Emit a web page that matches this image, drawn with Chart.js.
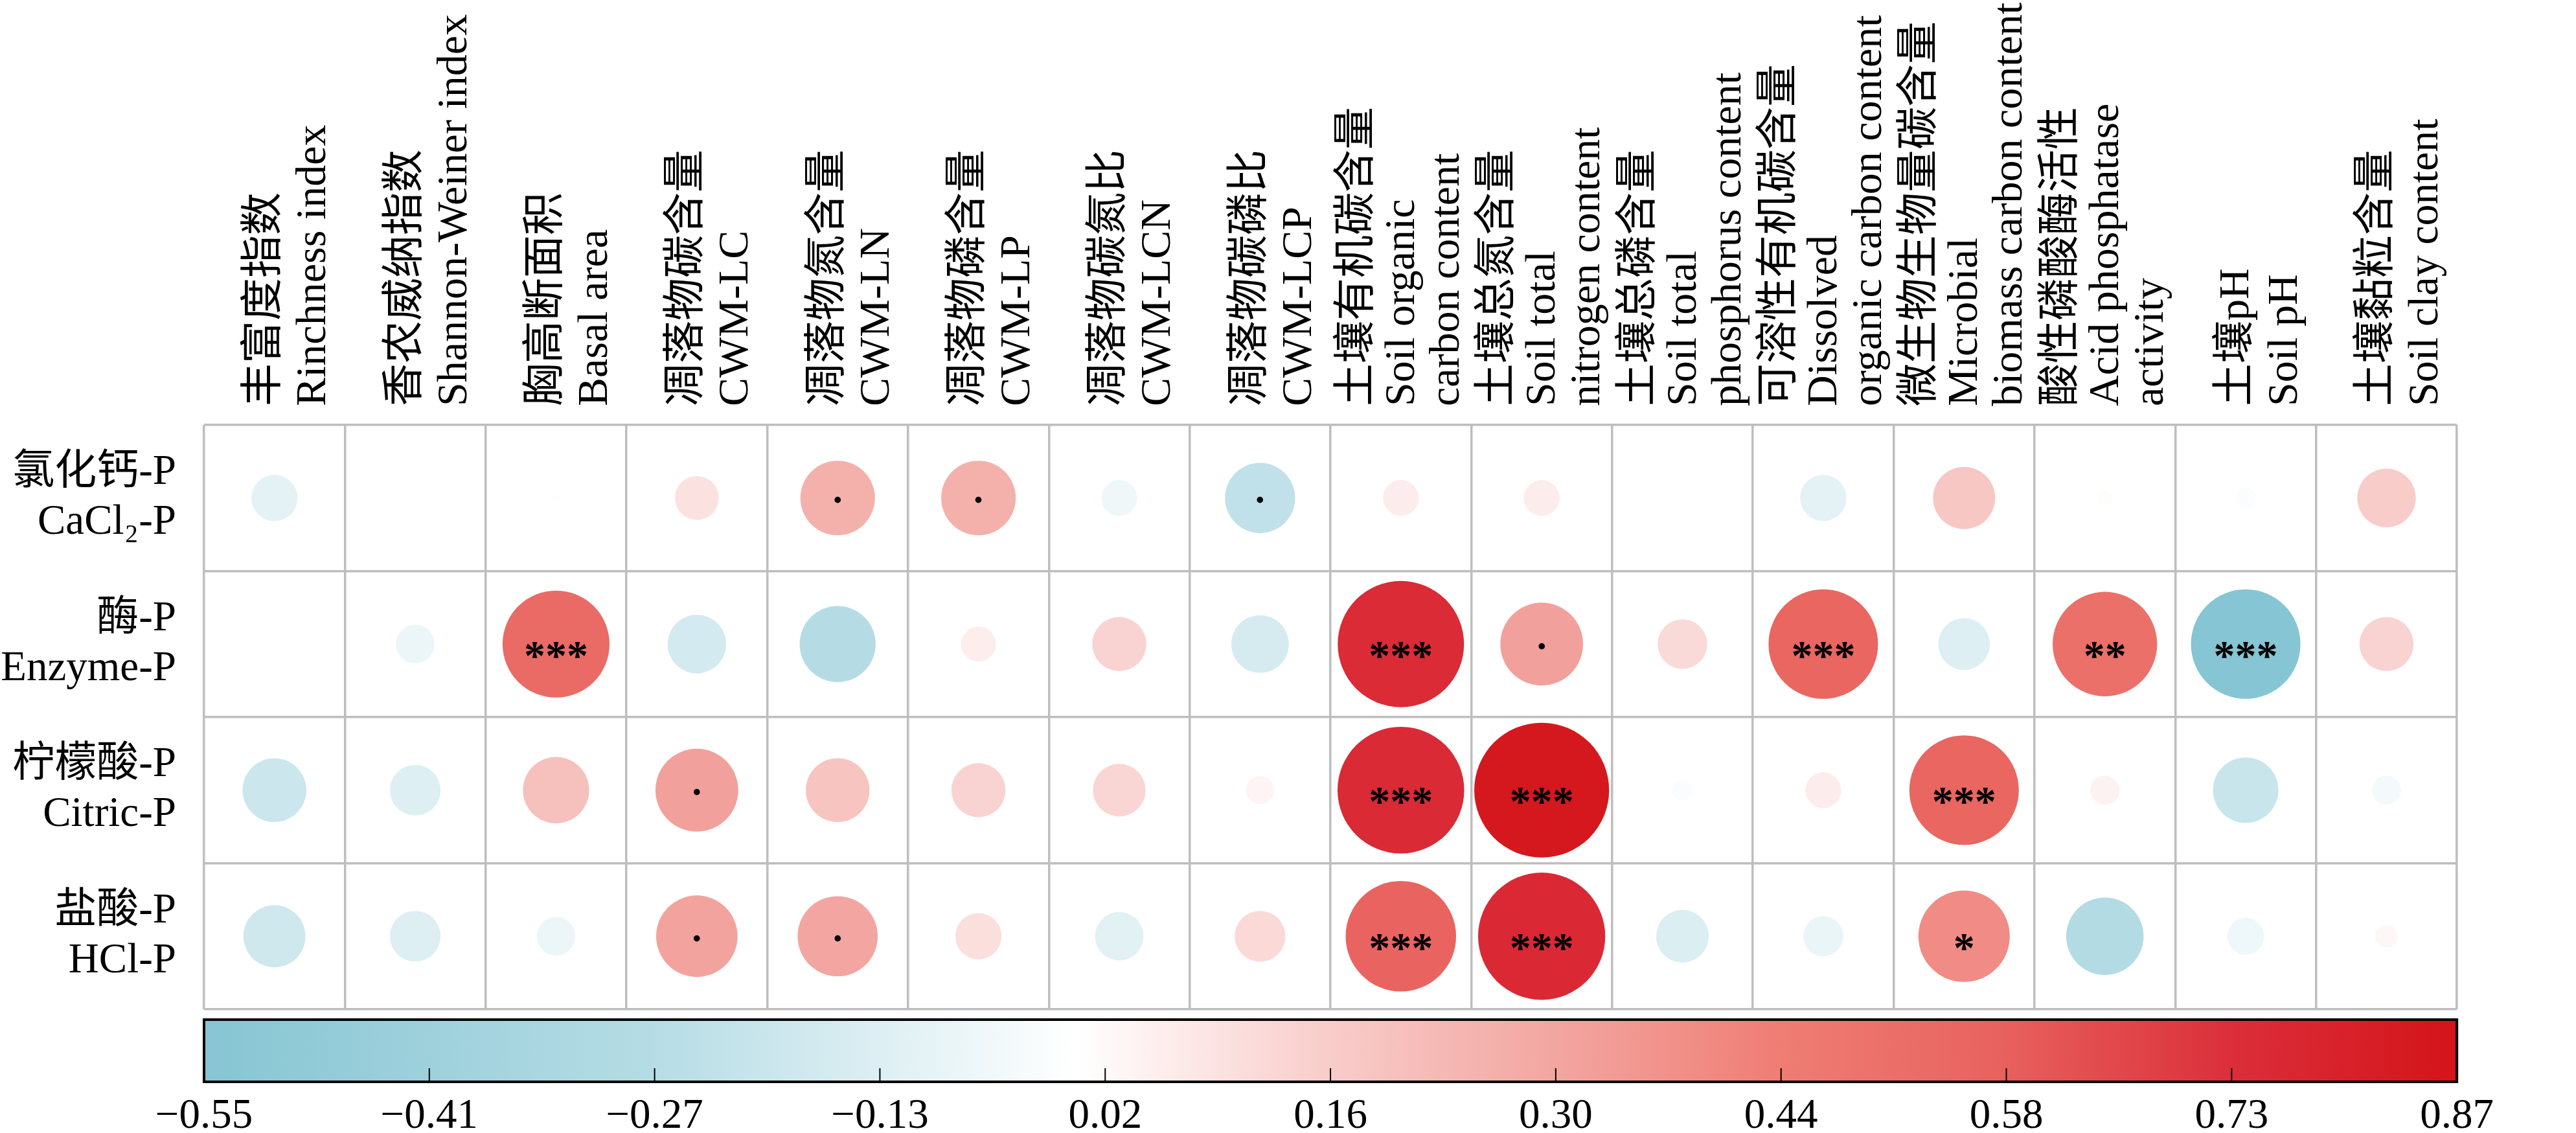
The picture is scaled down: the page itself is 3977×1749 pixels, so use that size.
<!DOCTYPE html>
<html>
<head>
<meta charset="utf-8">
<script src="https://cdn.jsdelivr.net/npm/chart.js@4.4.1/dist/chart.umd.min.js"></script>
<style>
    html, body { margin: 0; padding: 0; background: #fff; }
    canvas { display: block; }
</style>
</head>
<body>
<canvas id="corrChart" width="3977" height="1749"></canvas>
<script>
// rows: P fractions, columns: plant / litter / soil variables
const rowLabels = [
    ['氯化钙-P', 'CaCl₂-P'],
    ['酶-P', 'Enzyme-P'],
    ['柠檬酸-P', 'Citric-P'],
    ['盐酸-P', 'HCl-P']
];
const colLabels = [
    ['丰富度指数', 'Rinchness index'],
    ['香农威纳指数', 'Shannon-Weiner index'],
    ['胸高断面积', 'Basal area'],
    ['凋落物碳含量', 'CWM-LC'],
    ['凋落物氮含量', 'CWM-LN'],
    ['凋落物磷含量', 'CWM-LP'],
    ['凋落物碳氮比', 'CWM-LCN'],
    ['凋落物碳磷比', 'CWM-LCP'],
    ['土壤有机碳含量', 'Soil organic', 'carbon content'],
    ['土壤总氮含量', 'Soil total', 'nitrogen content'],
    ['土壤总磷含量', 'Soil total', 'phosphorus content'],
    ['可溶性有机碳含量', 'Dissolved', 'organic carbon content'],
    ['微生物生物量碳含量', 'Microbial', 'biomass carbon content'],
    ['酸性磷酸酶活性', 'Acid phosphatase', 'activity'],
    ['土壤pH', 'Soil pH'],
    ['土壤黏粒含量', 'Soil clay content']
];

// correlation coefficients (same column order as colLabels)
const cacl2P  = [-0.10, 0.00, 0.003, 0.09, 0.26, 0.26, -0.06, -0.23, 0.06, 0.06, -0.002, -0.10, 0.18, 0.01, -0.02, 0.16];
const enzymeP = [0.00, -0.07, 0.535, -0.16, -0.27, 0.057, 0.137, -0.155, 0.745, 0.32, 0.115, 0.56, -0.125, 0.51, -0.56, 0.137];
const citricP = [-0.19, -0.12, 0.205, 0.32, 0.19, 0.137, 0.13, 0.036, 0.75, 0.85, -0.02, 0.06, 0.56, 0.04, -0.20, -0.04];
const hclP    = [-0.18, -0.12, -0.07, 0.31, 0.30, 0.10, -0.11, 0.12, 0.57, 0.755, -0.13, -0.075, 0.39, -0.28, -0.063, 0.024];

// significance marks
const cacl2Sig  = ['', '', '', '', '.', '.', '', '.', '', '', '', '', '', '', '', ''];
const enzymeSig = ['', '', '***', '', '', '', '', '', '***', '.', '', '***', '', '**', '***', ''];
const citricSig = ['', '', '', '.', '', '', '', '', '***', '***', '', '', '***', '', '', ''];
const hclSig    = ['', '', '', '.', '.', '', '', '', '***', '***', '', '', '*', '', '', ''];

// colour bar tick labels
const cbTicks = [-0.55, -0.41, -0.27, -0.13, 0.02, 0.16, 0.30, 0.44, 0.58, 0.73, 0.87];

const rowValues = [cacl2P, enzymeP, citricP, hclP];
const rowSigs = [cacl2Sig, enzymeSig, citricSig, hclSig];
const rowKeys = rowLabels.map(l => l[1]);
const colKeys = colLabels.map(l => l.join(' '));

// layout
const yAxisWidth = 315;
const padTop = 656;
const padRight = 48;
const cbHeight = 191;

const colorStops = [
    [-0.55, '#86C5D3'], [-0.27, '#B5DCE5'], [0, '#FFFFFF'], [0.16, '#F8CCC9'],
    [0.30, '#F3A6A1'], [0.44, '#EF7E75'], [0.58, '#E8625E'], [0.73, '#DB2E3A'], [0.87, '#D41419']
];

function hexRgb(h) {
    return [1, 3, 5].map(i => parseInt(h.substr(i, 2), 16));
}

function colorFor(v) {
    if (v <= colorStops[0][0]) return colorStops[0][1];
    for (let i = 1; i < colorStops.length; i++) {
        if (v <= colorStops[i][0]) {
            const [v0, c0] = colorStops[i - 1];
            const [v1, c1] = colorStops[i];
            const t = (v - v0) / (v1 - v0);
            const a = hexRgb(c0), b = hexRgb(c1);
            const c = a.map((x, k) => Math.round(x + (b[k] - x) * t));
            return `rgb(${c[0]},${c[1]},${c[2]})`;
        }
    }
    return colorStops[colorStops.length - 1][1];
}

const points = [];
rowValues.forEach((vals, r) => {
    vals.forEach((v, c) => {
        points.push({x: colKeys[c], y: rowKeys[r], v: v, sig: rowSigs[r][c]});
    });
});

const serif = "'Liberation Serif', 'Noto Sans CJK SC', serif";
Chart.defaults.font.family = serif;
Chart.defaults.color = '#000';

function fmtTick(v) {
    return (v < 0 ? '\u2212' : '') + Math.abs(v).toFixed(2);
}

// circle area proportional to |r|; full cell for |r| = 1
function bubbleRadius(chart, v) {
    const cell = (chart.width - yAxisWidth - padRight) / colKeys.length;
    return cell / 2 * Math.sqrt(Math.abs(v));
}

// column headers, rotated, drawn above the grid
const headerPlugin = {
    id: 'header',
    afterDraw(chart) {
        const xs = chart.scales.x;
        const ctx = chart.ctx;
        ctx.save();
        ctx.fillStyle = '#000';
        ctx.font = `66px ${serif}`;
        ctx.textAlign = 'left';
        ctx.textBaseline = 'alphabetic';
        colLabels.forEach((lines, i) => {
            const cx = xs.getPixelForValue(i);
            const n = lines.length;
            const gap = n === 3 ? 69 : 75;
            const off = n === 3 ? 20 : 41;
            lines.forEach((line, k) => {
                ctx.save();
                ctx.translate(cx + off + (k - (n - 1) / 2) * gap, xs.top - 29);
                ctx.rotate(-Math.PI / 2);
                ctx.fillText(line, 0, 0);
                ctx.restore();
            });
        });
        ctx.restore();
    }
};

// significance stars on top of the circles
const sigPlugin = {
    id: 'sig',
    afterDatasetsDraw(chart) {
        const ctx = chart.ctx;
        const meta = chart.getDatasetMeta(0);
        ctx.save();
        ctx.fillStyle = '#000';
        ctx.textAlign = 'center';
        ctx.textBaseline = 'alphabetic';
        meta.data.forEach((el, i) => {
            const s = points[i].sig;
            if (!s) return;
            const isDot = s === '.';
            ctx.font = `bold ${isDot ? 60 : 66}px ${serif}`;
            const m = ctx.measureText(s);
            const mid = (m.actualBoundingBoxAscent - m.actualBoundingBoxDescent) / 2;
            ctx.fillText(s, el.x, el.y + mid + (isDot ? 3 : 9));
        });
        ctx.restore();
    }
};

// colour bar in the bottom scale box
const colorBarPlugin = {
    id: 'colorbar',
    afterDraw(chart) {
        const cb = chart.scales.cb;
        const ctx = chart.ctx;
        const left = cb.left, right = cb.right;
        const top = cb.top + 16, bottom = cb.top + 112;
        const lo = cbTicks[0], hi = cbTicks[cbTicks.length - 1];
        const grad = ctx.createLinearGradient(left, 0, right, 0);
        colorStops.forEach(([v, c]) => grad.addColorStop((v - lo) / (hi - lo), c));
        ctx.save();
        ctx.fillStyle = grad;
        ctx.fillRect(left, top, right - left, bottom - top);
        ctx.strokeStyle = '#000';
        ctx.lineWidth = 2;
        for (let i = 1; i < cbTicks.length - 1; i++) {
            const x = cb.getPixelForValue(i);
            ctx.beginPath();
            ctx.moveTo(x, bottom - 21);
            ctx.lineTo(x, bottom);
            ctx.stroke();
        }
        ctx.lineWidth = 4;
        ctx.strokeRect(left, top, right - left, bottom - top);
        ctx.restore();
    }
};

const gridColor = '#BEBEBE';

new Chart(document.getElementById('corrChart').getContext('2d'), {
    type: 'bubble',
    data: {
        datasets: [{
            data: points,
            xAxisID: 'x',
            yAxisID: 'y',
            borderWidth: 0,
            backgroundColor: ctx => colorFor(ctx.raw ? ctx.raw.v : 0),
            radius: ctx => bubbleRadius(ctx.chart, ctx.raw ? ctx.raw.v : 0)
        }]
    },
    options: {
        responsive: false,
        devicePixelRatio: 1,
        animation: false,
        events: [],
        layout: {padding: {left: 0, top: padTop, right: padRight, bottom: 0}},
        plugins: {legend: {display: false}, tooltip: {enabled: false}},
        scales: {
            x: {
                type: 'category',
                position: 'top',
                labels: colKeys,
                offset: true,
                grid: {offset: true, color: gridColor, lineWidth: 3.5, drawTicks: false},
                border: {display: false},
                ticks: {display: false},
                afterFit: s => { s.height = 0; }
            },
            y: {
                type: 'category',
                position: 'left',
                labels: rowKeys,
                offset: true,
                grid: {offset: true, color: gridColor, lineWidth: 3.5, drawTicks: false},
                border: {display: false},
                ticks: {
                    padding: 43,
                    font: {size: 65, lineHeight: 1.18},
                    callback: (val, i) => rowLabels[i]
                },
                afterFit: s => { s.width = yAxisWidth; }
            },
            cb: {
                axis: 'x',
                type: 'category',
                position: 'bottom',
                labels: cbTicks.map(String),
                offset: false,
                grid: {display: false, drawTicks: false},
                border: {display: false},
                ticks: {
                    padding: 127,
                    autoSkip: false,
                    maxRotation: 0,
                    font: {size: 65, lineHeight: 1.2},
                    callback: (val, i) => fmtTick(cbTicks[i])
                },
                afterFit: s => { s.height = cbHeight; }
            }
        }
    },
    plugins: [headerPlugin, sigPlugin, colorBarPlugin]
});
</script>
</body>
</html>
